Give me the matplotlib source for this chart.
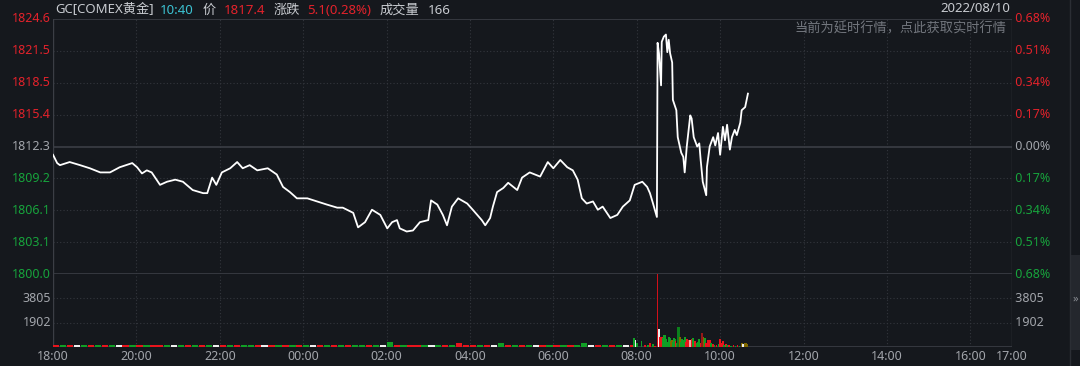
import numpy as np
import matplotlib.pyplot as plt
from matplotlib.patches import Rectangle

plt.rcParams['font.family'] = ['Noto Sans', 'Noto Sans CJK SC']

# price line: minutes after 18:00, price
price_t = [0, 6, 10, 24, 39, 53, 68, 82, 96, 114, 121, 128, 135, 142, 154, 164, 176, 187, 201, 216,
           222, 229, 235, 243, 255, 265, 273, 283, 294, 309, 322, 331, 341, 351, 366, 380, 394, 409, 417, 432,
           439, 449, 459, 471, 481, 488, 495, 499, 509, 518, 528, 540, 544, 553, 561, 567, 574, 583, 596, 604,
           617, 622, 629, 633, 639, 648, 655, 668, 675, 686, 701, 712, 720, 730, 740, 748, 755, 761, 768, 777,
           784, 791, 802, 812, 820, 830, 837, 848, 855, 859, 863, 869, 870, 872, 875, 876, 879, 882, 884, 886,
           888, 891, 892, 897, 899, 904, 907, 909, 912, 917, 919, 922, 927, 930, 932, 935, 940, 941, 945, 950,
           953, 957, 960, 964, 967, 970, 974, 977, 981, 984, 989, 991, 996, 1000]
price = [1811.5, 1810.7, 1810.5, 1810.8, 1810.5, 1810.2, 1809.8, 1809.8, 1810.3, 1810.7, 1810.3, 1809.7, 1810.0, 1809.8, 1808.6, 1808.9, 1809.1, 1808.9, 1808.1, 1807.8,
         1807.8, 1809.3, 1808.6, 1809.8, 1810.2, 1810.8, 1810.2, 1810.5, 1810.0, 1810.2, 1809.6, 1808.4, 1807.9, 1807.3, 1807.3, 1807.0, 1806.7, 1806.4, 1806.4, 1805.9,
         1804.5, 1805.0, 1806.2, 1805.7, 1804.4, 1805.0, 1805.2, 1804.4, 1804.1, 1804.2, 1805.0, 1805.2, 1807.1, 1806.7, 1805.7, 1804.7, 1806.5, 1807.3, 1806.8, 1806.2,
         1805.2, 1804.7, 1805.4, 1806.5, 1807.9, 1808.3, 1808.8, 1808.1, 1809.3, 1809.8, 1809.4, 1810.8, 1810.2, 1811.0, 1810.3, 1810.0, 1809.1, 1807.3, 1806.8, 1807.0,
         1806.2, 1806.5, 1805.4, 1805.7, 1806.5, 1807.1, 1808.6, 1808.9, 1808.4, 1807.8, 1806.9, 1805.5, 1822.3, 1821.3, 1818.2, 1822.4, 1822.9, 1823.1, 1821.4, 1822.6,
         1821.3, 1820.4, 1816.8, 1815.8, 1813.2, 1811.7, 1811.3, 1809.8, 1812.3, 1815.3, 1815.0, 1813.2, 1812.3, 1812.6, 1811.0, 1808.9, 1807.6, 1810.3, 1812.3, 1813.2,
         1812.4, 1813.6, 1811.5, 1814.2, 1812.9, 1814.4, 1812.0, 1813.2, 1813.9, 1813.4, 1814.6, 1815.8, 1816.1, 1817.4]
prev_close = 1812.3

# quiet session volume, one value per 10 minutes from 18:00
vol_early = [150, 120, 180, 140, 160, 130, 170, 150, 140, 160,
             130, 180, 150, 160, 140, 170, 120, 150, 160, 140,
             150, 130, 170, 160, 140, 180, 150, 130, 160, 150,
             140, 170, 150, 160, 130, 150, 140, 180, 160, 150,
             170, 140, 160, 150, 180, 160, 150, 140, 420, 170,
             160, 180, 150, 170, 160, 190, 140, 170, 350, 160,
             170, 160, 150, 160, 300, 180, 160, 170, 150, 160,
             170, 150, 160, 180, 150, 170, 330, 160, 180, 160,
             170, 160, 150, 180]
vol_early_c = list("rgrwgrgrgw" "rgrgrrgwgr" "grgwrgrggr" "wrgrgrgwrg" "rgrggrgwgr"
                   "grrgwgrgrr" "rgrwgrgrgw" "rgrgrggwrg" "rgwr")

# active volume around the 08:30 release
vol_t = [836, 838, 840, 847, 852, 856, 859, 863, 866, 870, 872, 873, 875, 876, 878, 879, 881, 882, 884, 885,
         886, 888, 889, 891, 892, 894, 895, 896, 898, 899, 901, 902, 904, 905, 907, 909, 911, 912, 914, 916,
         917, 919, 921, 923, 924, 926, 928, 930, 932, 934, 936, 938, 940, 942, 943, 945, 947, 948, 950, 952,
         955, 958, 960, 962, 964, 966, 968, 970, 973, 976, 979, 982, 985, 988, 991, 993, 995, 997, 999]
vol = [700, 550, 300, 470, 120, 150, 300, 250, 100, 5700, 1430, 800, 760, 820, 700, 950, 900, 600, 400, 300,
       760, 720, 500, 580, 400, 680, 600, 500, 350, 1580, 1580, 800, 400, 620, 550, 790, 400, 620, 550, 450,
       560, 640, 700, 450, 500, 300, 400, 620, 350, 1110, 800, 700, 350, 300, 580, 550, 300, 250, 200, 150,
       120, 200, 620, 350, 480, 150, 200, 120, 150, 100, 120, 100, 150, 100, 300, 250, 300, 280, 250]
vol_c = list("gwggrgrgrRwrrrgggggg" "ggoogggrgGGoggggrrrg" "prgrrgggrdogrgrrggrg" "rgrrrgrgrgrgrgowooo")

price_ticks = ['1800.0', '1803.1', '1806.1', '1809.2', '1812.3', '1815.4', '1818.5', '1821.5', '1824.6']
pct_ticks = ['0.68%', '0.51%', '0.34%', '0.17%', '0.00%', '0.17%', '0.34%', '0.51%', '0.68%']
vol_ticks = [1902, 3805]
time_labels = ['18:00', '20:00', '22:00', '00:00', '02:00', '04:00', '06:00', '08:00',
               '10:00', '12:00', '14:00', '16:00', '17:00']
time_ticks = [0, 120, 240, 360, 480, 600, 720, 840, 960, 1080, 1200, 1320, 1380]

BG = '#15181d'
GRID = '#33363d'
SOLID = '#3b3e45'
RED = '#e3222b'
GREEN = '#17a33c'
GRAY = '#a2a5ab'
cmap = {'r': '#e8141c', 'R': '#d0101a', 'g': '#109f25', 'w': '#eeeeee', 'o': '#806800',
        'd': '#981818', 'G': '#0c801c', 'p': '#f0a5a5'}

W, H = 1080, 366
fig = plt.figure(figsize=(W / 100, H / 100), dpi=100, facecolor=BG)
x0, x1 = 53 / W, 1012 / W
ax = fig.add_axes([x0, 1 - 274 / H, x1 - x0, (274 - 19) / H])
axv = fig.add_axes([x0, 1 - 347 / H, x1 - x0, (347 - 274) / H])

lo, hi = 1800.0, 1824.6
levels = np.linspace(lo, hi, 9)
for a in (ax, axv):
    a.set_facecolor(BG)
    a.set_xlim(0, 1380)
    for s in a.spines.values():
        s.set_visible(False)
    a.set_xticks([])
    a.set_yticks([])
    for t in time_ticks[1:-1]:
        a.axvline(t, color=GRID, lw=0.8, ls=(0, (1, 2)), zorder=0)
    a.axvline(0, color=SOLID, lw=1, zorder=1)
    a.axvline(1380, color=SOLID, lw=1, zorder=1)

# price panel
ax.set_ylim(lo, hi)
for i, yv in enumerate(levels):
    if i in (0, 4, 8):
        ax.axhline(yv, color=SOLID, lw=1.2, zorder=1)
    else:
        ax.axhline(yv, color=GRID, lw=0.8, ls=(0, (1, 2)), zorder=0)
    c = GREEN if i < 4 else (GRAY if i == 4 else RED)
    ax.text(-3, yv, price_ticks[i], ha='right', va='center', color=c, fontsize=9, clip_on=False)
    ax.text(1380, yv, ' ' + pct_ticks[i], ha='left', va='center', color=c, fontsize=9, clip_on=False)
ax.plot(price_t, price, color='white', lw=1.3, zorder=3)

# volume panel
vtop = 5707
axv.set_ylim(0, vtop)
for yv in vol_ticks:
    axv.axhline(yv, color=GRID, lw=0.8, ls=(0, (1, 2)), zorder=0)
    axv.text(-3, yv, str(yv), ha='right', va='center', color=GRAY, fontsize=9)
    axv.text(1380, yv, ' ' + str(yv), ha='left', va='center', color=GRAY, fontsize=9)
axv.axhline(0, color=SOLID, lw=1.2, zorder=1)
early_t = np.arange(len(vol_early)) * 10
axv.bar(early_t, vol_early, width=9, align='edge', color=[cmap[c] for c in vol_early_c], lw=0, zorder=2)
axv.bar(vol_t, vol, width=2.4, color=[cmap[c] for c in vol_c], lw=0, zorder=2)
for t, lab in zip(time_ticks, time_labels):
    axv.text(t, -0.125, lab, transform=axv.get_xaxis_transform(), ha='center', va='center',
             color=GRAY, fontsize=9)

# header
def px(x, y):
    return x / W, 1 - y / H

hdr = [(55, 'GC[COMEX黄金]', '#c8cbd0'), (160, '10:40', '#3cc3d3'), (203, '价', '#c8cbd0'),
       (224, '1817.4', RED), (274, '涨跌', '#c8cbd0'), (307, '5.1(0.28%)', RED),
       (380, '成交量', '#c8cbd0'), (428, '166', '#c8cbd0')]
for x, s, c in hdr:
    fig.text(*px(x, 10), s, color=c, fontsize=9.5, va='center', ha='left')
fig.text(*px(1010, 9), '2022/08/10', color='#c8cbd0', fontsize=9.5, va='center', ha='right')
fig.text(*px(1006, 29), '当前为延时行情，点此获取实时行情', color='#72767d', fontsize=9.5,
         va='center', ha='right')

# side strip
fig.add_artist(plt.Line2D([1070 / W, 1070 / W], [0, 1], color='#2b2e34', lw=1))
fig.add_artist(Rectangle((1071 / W, 1 - 350 / H), 9 / W, 95 / H, color='#24272d', lw=0))
fig.text(*px(1075, 299), '»', color='#8a8d93', fontsize=8, va='center', ha='center')

fig.savefig('out.png', dpi=100, facecolor=BG)
